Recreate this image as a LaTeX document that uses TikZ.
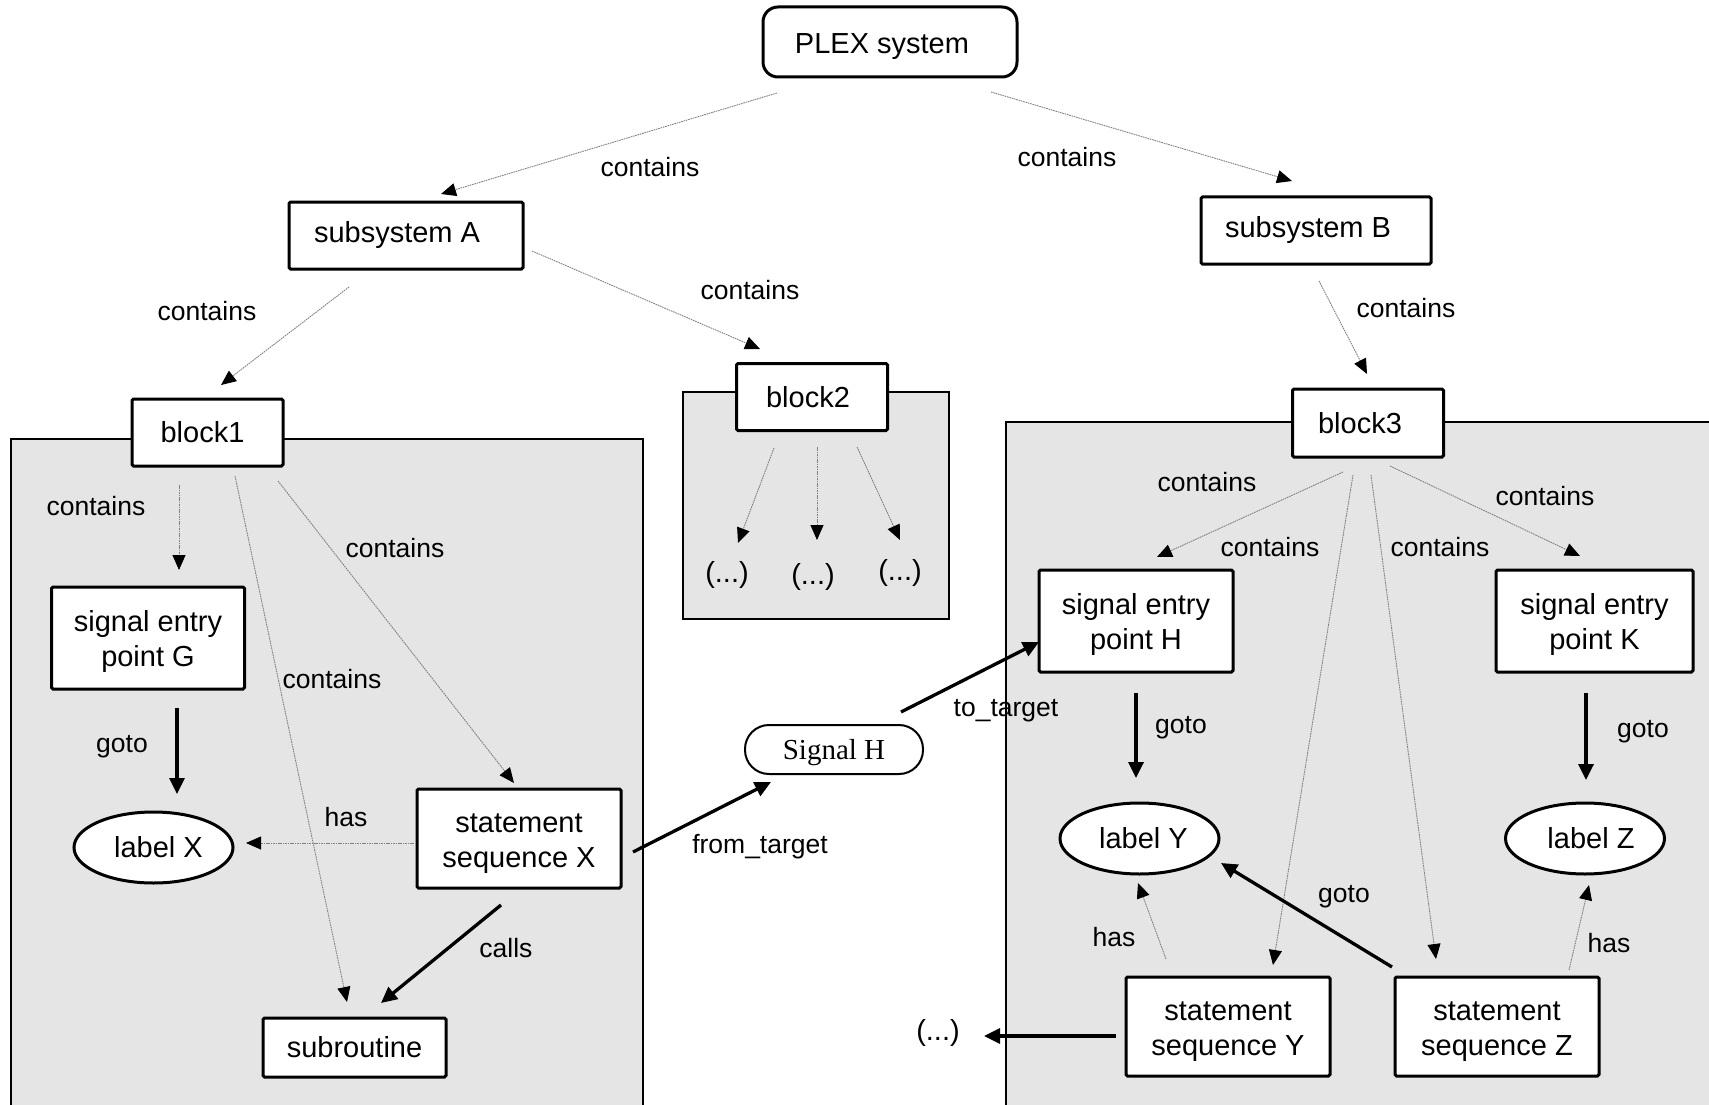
\documentclass[tikz,border=0pt]{standalone}
\usepackage{fontspec}
\setmainfont{Liberation Sans}
\newfontfamily\serifH{Liberation Serif}
\usetikzlibrary{arrows.meta,shapes.geometric}
\begin{document}
\begin{tikzpicture}[x=1pt,y=-1pt,
  box/.style={draw,line width=3pt,fill=white,rounded corners=1.5pt,inner sep=0pt,align=center,font=\fontsize{29}{35}\selectfont},
  twoline/.style={text height=64pt},
  ell/.style={draw,ellipse,line width=3pt,fill=white,inner sep=0pt,minimum width=159pt,minimum height=71pt,font=\fontsize{29}{35}\selectfont},
  plain/.style={inner sep=0pt,font=\fontsize{29}{35}\selectfont},
  lbl/.style={inner sep=0pt,font=\fontsize{26.5}{32}\selectfont},
  thin/.style={draw=black!50,line width=0.9pt,dash pattern=on 1.6pt off 0.8pt,-{Triangle[length=15pt,width=13pt,color=black]}},
  bold/.style={draw=black,line width=3.3pt,-{Triangle[length=16pt,width=15pt]}},
  region/.style={line width=1.5pt}
]
\useasboundingbox (0,0) rectangle (1709,1105);
% regions
\fill[black!10] (11,439) rectangle (643,1105);
\draw[region] (11,1105) -- (11,439) -- (643,439) -- (643,1105);
\draw[region,fill=black!10] (683,392) rectangle (949,619);
\fill[black!10] (1006,422) rectangle (1709,1105);
\draw[region] (1006,1105) -- (1006,422) -- (1709,422);
% nodes
\node[box,text height=28.5pt,rounded corners=15pt,minimum width=254pt,minimum height=70pt] (plex) at (890,42) {PLEX system\hspace*{16pt}};
\node[box,minimum width=234pt,minimum height=67pt] (subA) at (406,235.5) {subsystem A\hspace*{18pt}};
\node[box,minimum width=230pt,minimum height=67pt] (subB) at (1316,230.5) {subsystem B\hspace*{16pt}};
\node[box,minimum width=151pt,minimum height=67pt] (b1) at (207.5,432.5) {block1\hspace*{10pt}};
\node[box,minimum width=151pt,minimum height=67pt] (b2) at (812,397) {block2\hspace*{8pt}};
\node[box,minimum width=151pt,minimum height=68pt] (b3) at (1368,423) {block3\hspace*{16pt}};
\node[box,twoline,minimum width=193pt,minimum height=102pt] (sigG) at (148,638) {signal entry\\point G};
\node[ell] (labX) at (153.5,847.5) {\hspace*{10pt}label X};
\node[box,twoline,minimum width=204pt,minimum height=99pt] (seqX) at (519,838.5) {statement\\sequence X};
\node[box,minimum width=183pt,minimum height=59pt] (sub) at (354.5,1047.5) {subroutine};
\node[draw,line width=2pt,fill=white,rounded corners=24pt,minimum width=178pt,minimum height=49pt,inner sep=0pt,text height=26.5pt,font=\serifH\fontsize{29}{35}\selectfont] (sigH) at (834,749.5) {Signal H};
\node[box,twoline,minimum width=194pt,minimum height=102pt] (epH) at (1136,621) {signal entry\\point H};
\node[box,twoline,minimum width=197pt,minimum height=102pt] (epK) at (1594.5,621) {signal entry\\point K};
\node[ell] (labY) at (1139.5,838.5) {\hspace*{8pt}label Y};
\node[ell] (labZ) at (1585,838.5) {\hspace*{12pt}label Z};
\node[box,twoline,minimum width=204pt,minimum height=99pt] (seqY) at (1228,1026.5) {statement\\sequence Y};
\node[box,twoline,minimum width=204pt,minimum height=99pt] (seqZ) at (1497,1026.5) {statement\\sequence Z};
\node[plain] (dotsY) at (938,1033) {(...)};
\node[plain] (d1) at (727,575) {(...)};
\node[plain] (d2) at (813,577) {(...)};
\node[plain] (d3) at (900,573) {(...)};
% thin edges
\draw[thin] ([shift={(-113,51)}]plex.center) -- ([shift={(35,-41.5)}]subA.center);
\draw[thin] ([shift={(101,50)}]plex.center) -- ([shift={(-24,-49.5)}]subB.center);
\draw[thin] ([shift={(-57,51.5)}]subA.center) -- ([shift={(13.5,-47.5)}]b1.center);
\draw[thin] ([shift={(126,15.5)}]subA.center) -- ([shift={(-52,-48)}]b2.center);
\draw[thin] ([shift={(3,50.5)}]subB.center) -- ([shift={(-1,-49)}]b3.center);
\draw[thin] ([shift={(-28.5,52.5)}]b1.center) -- ([shift={(31,-68)}]sigG.center);
\draw[thin] ([shift={(27.5,43.5)}]b1.center) -- ([shift={(-7.5,-45.5)}]sub.center);
\draw[thin] ([shift={(70.5,48.5)}]b1.center) -- ([shift={(-5,-55.5)}]seqX.center);
\draw[thin] ([shift={(-105,4.5)}]seqX.center) -- ([shift={(92.5,-4.5)}]labX.center);
\draw[thin] ([shift={(-38,51)}]b2.center) -- ([shift={(11,-32)}]d1.center);
\draw[thin] ([shift={(5,50)}]b2.center) -- ([shift={(4,-37)}]d2.center);
\draw[thin] ([shift={(45,50)}]b2.center) -- ([shift={(0,-33)}]d3.center);
\draw[thin] ([shift={(-25,49)}]b3.center) -- ([shift={(21,-64)}]epH.center);
\draw[thin] ([shift={(-15,52)}]b3.center) -- ([shift={(45,-61.5)}]seqY.center);
\draw[thin] ([shift={(3,52)}]b3.center) -- ([shift={(-61,-67.5)}]seqZ.center);
\draw[thin] ([shift={(22,43)}]b3.center) -- ([shift={(-14.5,-65)}]epK.center);
\draw[thin] ([shift={(-62,-67.5)}]seqY.center) -- ([shift={(-1.5,44.5)}]labY.center);
\draw[thin] ([shift={(72,-56.5)}]seqZ.center) -- ([shift={(4,46.5)}]labZ.center);
% bold edges
\draw[bold] ([shift={(29,70)}]sigG.center) -- ([shift={(23.5,-53.5)}]labX.center);
\draw[bold] ([shift={(-18,66.5)}]seqX.center) -- ([shift={(26.5,-44.5)}]sub.center);
\draw[bold] ([shift={(114,13.5)}]seqX.center) -- ([shift={(-63,32.5)}]sigH.center);
\draw[bold] ([shift={(67,-37.5)}]sigH.center) -- ([shift={(-97,21)}]epH.center);
\draw[bold] ([shift={(0,72)}]epH.center) -- ([shift={(-3.5,-60.5)}]labY.center);
\draw[bold] ([shift={(-8.5,72)}]epK.center) -- ([shift={(1,-58.5)}]labZ.center);
\draw[bold] ([shift={(-105,-59.5)}]seqZ.center) -- ([shift={(81.5,24.5)}]labY.center);
\draw[bold] ([shift={(-112,9.5)}]seqY.center) -- ([shift={(46,3)}]dotsY.center);
% labels
\node[lbl] (l1) at (650,167) {contains};
\node[lbl] (l2) at (1067,157) {contains};
\node[lbl] (l3) at (207,311) {contains};
\node[lbl] (l4) at (750,290) {contains};
\node[lbl] (l5) at (1406,308) {contains};
\node[lbl] (l6) at (96,506) {contains};
\node[lbl] (l7) at (395,548) {contains};
\node[lbl] (l8) at (332,679) {contains};
\node[lbl] (l9) at (122,747) {goto};
\node[lbl] (l10) at (346,817) {has};
\node[lbl] (l11) at (506,948) {calls};
\node[lbl] (l12) at (760,847) {from\_target};
\node[lbl] (l13) at (1006,711) {to\_target};
\node[lbl] (l14) at (1207,482) {contains};
\node[lbl] (l15) at (1270,547) {contains};
\node[lbl] (l16) at (1440,547) {contains};
\node[lbl] (l17) at (1545,496) {contains};
\node[lbl] (l18) at (1181,728) {goto};
\node[lbl] (l19) at (1643,732) {goto};
\node[lbl] (l20) at (1114,937) {has};
\node[lbl] (l21) at (1609,943) {has};
\node[lbl] (l22) at (1344,897) {goto};
\end{tikzpicture}
\end{document}
